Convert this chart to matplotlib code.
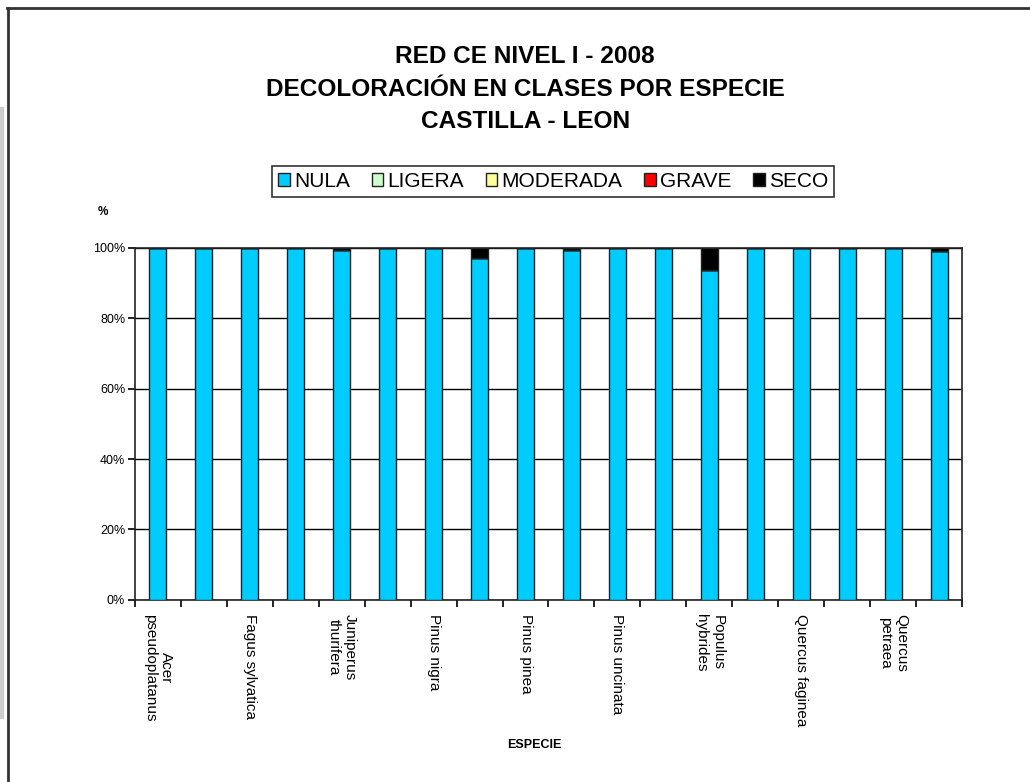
import numpy as np
import matplotlib
matplotlib.use('Agg')
import matplotlib.pyplot as plt
from matplotlib.patches import Rectangle

plt.rcParams['font.family'] = ['Liberation Sans', 'DejaVu Sans']

# =============================================================================
# Data
# =============================================================================
species = [
    "Acer\npseudoplatanus", "Castanea sativa", "Fagus sylvatica",
    "Juniperus oxycedrus", "Juniperus\nthurifera", "Pinus halepensis",
    "Pinus nigra", "Pinus pinaster", "Pinus pinea", "Pinus sylvestris",
    "Pinus uncinata", "Populus alba", "Populus\nhybrides", "Populus nigra",
    "Quercus faginea", "Quercus ilex", "Quercus\npetraea", "Quercus pyrenaica",
]
nula     = [100, 100, 100, 100, 99.4, 100, 100, 97.1, 100, 99.3,
            100, 100, 93.6, 100, 100, 100, 100, 99.2]
ligera   = [0] * 18
moderada = [0] * 18
grave    = [0] * 18
seco     = [0, 0, 0, 0, 0.6, 0, 0, 2.9, 0, 0.7,
            0, 0, 6.4, 0, 0, 0, 0, 0.8]

classes = ["NULA", "LIGERA", "MODERADA", "GRAVE", "SECO"]
colors  = ["#00CCFF", "#CCFFCC", "#FFFF99", "#FF0000", "#000000"]

# =============================================================================
# Figure
# =============================================================================
fig = plt.figure(figsize=(10.3, 7.82), dpi=100)
ax = fig.add_axes([0.131, 0.233, 0.803, 0.450])

x = np.arange(len(species))
bottom = np.zeros(len(species))
handles = []
for name, vals, col in zip(classes, [nula, ligera, moderada, grave, seco], colors):
    vals = np.array(vals, dtype=float)
    h = ax.bar(x, vals, 0.37, bottom=bottom, color=col, edgecolor='#222222',
               linewidth=1.0, label=name, zorder=3)
    bottom += vals
    handles.append(h)

ax.set_xlim(-0.5, len(species) - 0.5)
ax.set_ylim(0, 100)
ax.set_yticks(np.arange(0, 101, 20))
ax.set_yticklabels([f"{v}%" for v in range(0, 101, 20)], fontsize=9)
ax.yaxis.grid(True, color='black', linewidth=1.0, zorder=0)
ax.tick_params(axis='y', length=5, width=1.2, direction='out', pad=2)

# labels on every other species, ticks on category boundaries
ax.set_xticks(x)
ax.set_xticklabels([s if i % 2 == 0 else "" for i, s in enumerate(species)],
                   rotation=270, fontsize=11, va='top', ha='center',
                   multialignment='center')
ax.tick_params(axis='x', length=0, pad=10)
ax.set_xticks(np.arange(-0.5, len(species), 1), minor=True)
ax.tick_params(axis='x', which='minor', length=5, width=1.2, direction='out')

for sp in ax.spines.values():
    sp.set_linewidth(1.2)
    sp.set_color('#222222')

# titles
fig.text(0.510, 0.928, "RED CE NIVEL I - 2008", ha='center', va='center',
         fontsize=17.6, fontweight='bold')
fig.text(0.510, 0.886, "DECOLORACIÓN EN CLASES POR ESPECIE", ha='center',
         va='center', fontsize=17.6, fontweight='bold')
fig.text(0.510, 0.845, "CASTILLA - LEON", ha='center', va='center',
         fontsize=17.6, fontweight='bold')
fig.text(0.100, 0.729, "%", ha='center', va='center', fontsize=8.5,
         fontweight='bold')
fig.text(0.519, 0.047, "ESPECIE", ha='center', va='center', fontsize=9,
         fontweight='bold')

leg = fig.legend(handles=handles, labels=classes, loc='center',
                 bbox_to_anchor=(0.537, 0.768), ncol=5, fontsize=15,
                 frameon=True, fancybox=False, edgecolor='black',
                 handlelength=0.55, handleheight=0.55, handletextpad=0.2,
                 columnspacing=1.05, borderpad=0.3, borderaxespad=0)
leg.get_frame().set_linewidth(1.2)

# page frame
fig.add_artist(plt.Line2D([0.008, 0.008], [0, 0.990], color='#333333',
                          lw=2, transform=fig.transFigure))
fig.add_artist(plt.Line2D([0.007, 1.0], [0.990, 0.990], color='#333333',
                          lw=2, transform=fig.transFigure))
fig.add_artist(Rectangle((0, 0.082), 0.003, 0.781, color='#cccccc',
                         transform=fig.transFigure))

fig.savefig('out.png', dpi=100)
